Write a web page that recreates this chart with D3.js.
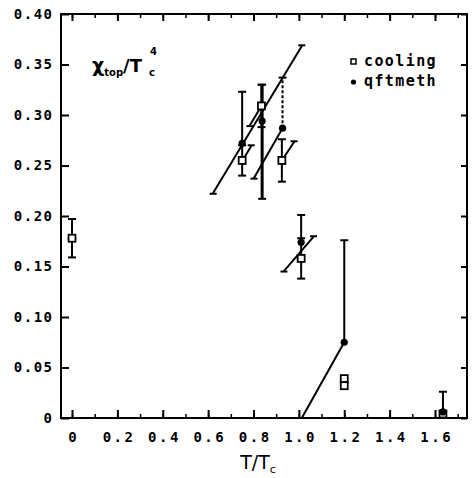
<!DOCTYPE html>
<html><head><meta charset="utf-8">
<script src="https://cdn.jsdelivr.net/npm/d3@7/dist/d3.min.js"></script>
<style>
html,body{margin:0;padding:0;background:#fff;}
svg{display:block;}
text{font-family:"DejaVu Sans Mono",monospace;font-weight:bold;fill:#000;}
</style></head>
<body>
<svg id="c" width="473" height="478"></svg>
<script>
// ---- data ----
const xTickValues = [0, 0.2, 0.4, 0.6, 0.8, 1.0, 1.2, 1.4, 1.6];
const xTickLabels = ["0", "0.2", "0.4", "0.6", "0.8", "1.0", "1.2", "1.4", "1.6"];
const yTickValues = [0, 0.05, 0.10, 0.15, 0.20, 0.25, 0.30, 0.35, 0.40];
const yTickLabels = ["0", "0.05", "0.10", "0.15", "0.20", "0.25", "0.30", "0.35", "0.40"];

// cooling (open squares)
const coolT   = [0, 0.75, 0.835, 0.925, 1.01, 1.2, 1.2, 1.635];
const coolChi = [0.178, 0.255, 0.309, 0.255, 0.158, 0.039, 0.032, 0.004];
const coolLo  = [0.159, 0.240, 0.288, 0.234, 0.138, 0.039, 0.032, 0.004];
const coolHi  = [0.197, 0.270, 0.330, 0.276, 0.178, 0.039, 0.032, 0.004];

// qftmeth (filled circles)
const qftT   = [0.75, 0.838, 0.928, 1.01, 1.2, 1.635];
const qftChi = [0.272, 0.294, 0.287, 0.174, 0.075, 0.006];
const qftLo  = [0.272, 0.217, 0.287, 0.174, 0.075, 0.006];
const qftHi  = [0.323, 0.330, 0.337, 0.201, 0.176, 0.026];

// slanted (correlated) error segments
const segT1   = [0.62, 0.751, 0.782, 0.80, 0.925, 0.932, 1.013];
const segChi1 = [0.222, 0.2548, 0.289, 0.237, 0.255, 0.145, 0];
const segT2   = [1.015, 0.792, 0.835, 0.928, 0.981, 1.067, 1.2];
const segChi2 = [0.369, 0.270, 0.309, 0.287, 0.274, 0.180, 0.075];
const segCapLow  = [true, false, true, true, false, true, false];
const segCapHigh = [true, true, false, false, true, true, false];

// ---- drawing ----
const svg = d3.select("#c");
const L = 61, R = 467, T = 14, B = 418;
const x = d3.scaleLinear().domain([-0.0485, 1.741]).range([L, R]);
const y = d3.scaleLinear().domain([0, 0.4]).range([B, T]);

const g = svg.append("g");

// frame
g.append("rect").attr("x", L).attr("y", T).attr("width", R - L).attr("height", B - T)
  .attr("fill", "none").attr("stroke", "#000").attr("stroke-width", 2);

// bottom axis (ticks inward)
const xMinor = d3.range(0, 1.75, 0.1).filter(v => v < 1.741);
const bAx = d3.axisBottom(x).tickValues(xTickValues).tickSize(-8).tickFormat((d, i) => xTickLabels[i]).tickPadding(14);
const gb = g.append("g").attr("transform", `translate(0,${B})`).call(bAx);
gb.select(".domain").remove();
gb.selectAll(".tick line").attr("stroke-width", 2);
gb.selectAll(".tick text").attr("font-size", 14).attr("letter-spacing", 2.5).attr("dx", 1.2);
const gbm = g.append("g").attr("transform", `translate(0,${B})`)
  .call(d3.axisBottom(x).tickValues(xMinor).tickSize(-4).tickFormat(""));
gbm.select(".domain").remove();
gbm.selectAll(".tick line").attr("stroke-width", 1.5);

// top axis (ticks inward)
const gt = g.append("g").attr("transform", `translate(0,${T})`)
  .call(d3.axisTop(x).tickValues(xTickValues).tickSize(-7).tickFormat(""));
gt.select(".domain").remove();
gt.selectAll(".tick line").attr("stroke-width", 2);
const gtm = g.append("g").attr("transform", `translate(0,${T})`)
  .call(d3.axisTop(x).tickValues(xMinor).tickSize(-4).tickFormat(""));
gtm.select(".domain").remove();
gtm.selectAll(".tick line").attr("stroke-width", 1.5);

// left axis
const lAx = d3.axisLeft(y).tickValues(yTickValues).tickSize(-8).tickFormat((d, i) => yTickLabels[i]).tickPadding(9);
const gl = g.append("g").attr("transform", `translate(${L},0)`).call(lAx);
gl.select(".domain").remove();
gl.selectAll(".tick line").attr("stroke-width", 2);
gl.selectAll(".tick text").attr("font-size", 14).attr("letter-spacing", 1.5).attr("dx", 1.5);

// right axis
const gr = g.append("g").attr("transform", `translate(${R},0)`)
  .call(d3.axisRight(y).tickValues(yTickValues).tickSize(-6).tickFormat(""));
gr.select(".domain").remove();
gr.selectAll(".tick line").attr("stroke-width", 2);

// axis label T/T_c
const xl = svg.append("text").attr("x", 258).attr("y", 469).attr("text-anchor", "middle")
  .style("font-family", "'DejaVu Sans',sans-serif").style("font-weight", "normal").attr("font-size", 19);
xl.append("tspan").text("T/T");
xl.append("tspan").attr("font-size", 11).attr("dy", 4).text("c");

// inner title chi_top / T_c^4
const tt = svg.append("text").attr("x", 92).attr("y", 72)
  .style("font-family", "'DejaVu Sans',sans-serif").attr("font-size", 19);
tt.append("tspan").text("χ");
tt.append("tspan").attr("font-size", 10).attr("dy", 4).text("top");
tt.append("tspan").attr("dy", -4).attr("font-size", 18).text("/T");
svg.append("text").attr("x", 149).attr("y", 76).attr("font-size", 10).style("font-family", "'DejaVu Sans',sans-serif").text("c");
svg.append("text").attr("x", 150).attr("y", 55).attr("font-size", 10).style("font-family", "'DejaVu Sans',sans-serif").text("4");

// slanted segments
const segs = segT1.map((t, i) => ({x1: t, y1: segChi1[i], x2: segT2[i], y2: segChi2[i], cl: segCapLow[i], ch: segCapHigh[i]}));
const sg = g.append("g").attr("stroke", "#000").attr("stroke-width", 2).attr("fill", "none");
segs.forEach(s => {
  sg.append("line").attr("x1", x(s.x1)).attr("y1", y(s.y1)).attr("x2", x(s.x2)).attr("y2", y(s.y2));
  if (s.cl) sg.append("line").attr("x1", x(s.x1) - 3).attr("x2", x(s.x1) + 4).attr("y1", y(s.y1)).attr("y2", y(s.y1));
  if (s.ch) sg.append("line").attr("x1", x(s.x2) - 4).attr("x2", x(s.x2) + 3).attr("y1", y(s.y2)).attr("y2", y(s.y2));
});

// error bars
function errBar(t, lo, hi, opts) {
  const eg = g.append("g").attr("stroke", "#000").attr("stroke-width", opts.w || 2);
  if (hi - lo <= 0) return;
  const l = eg.append("line").attr("x1", x(t)).attr("x2", x(t)).attr("y1", y(lo)).attr("y2", y(hi));
  if (opts.dash) l.attr("stroke-dasharray", opts.dash);
  if (opts.capHi) eg.append("line").attr("stroke-width", 2).attr("x1", x(t) - 4).attr("x2", x(t) + 4).attr("y1", y(hi)).attr("y2", y(hi));
  if (opts.capLo) eg.append("line").attr("stroke-width", 2).attr("x1", x(t) - 4).attr("x2", x(t) + 4).attr("y1", y(lo)).attr("y2", y(lo));
}
coolT.forEach((t, i) => errBar(t, coolLo[i], coolHi[i], {capHi: true, capLo: true}));
qftT.forEach((t, i) => errBar(t, qftLo[i], qftHi[i], {
  capHi: true, capLo: i === 1, w: i === 1 ? 3 : 2, dash: i === 2 ? "3,2" : null}));

// markers
g.selectAll(".cool").data(coolT).enter().append("rect")
  .attr("x", (d) => x(d) - 3.5).attr("y", (d, i) => y(coolChi[i]) - 3.5)
  .attr("width", 7).attr("height", 7).attr("fill", "#fff").attr("stroke", "#000").attr("stroke-width", 1.8);
g.selectAll(".qft").data(qftT).enter().append("circle")
  .attr("cx", d => x(d)).attr("cy", (d, i) => y(qftChi[i])).attr("r", 3.6).attr("fill", "#000");

// legend
const lg = svg.append("g");
lg.append("rect").attr("x", 351).attr("y", 59).attr("width", 5).attr("height", 5).attr("fill", "#fff").attr("stroke", "#000").attr("stroke-width", 1.5);
lg.append("circle").attr("cx", 353.5).attr("cy", 82).attr("r", 2.6).attr("fill", "#000");
lg.append("text").attr("x", 364).attr("y", 66).attr("font-size", 15).attr("letter-spacing", 1.4).text("cooling");
lg.append("text").attr("x", 364).attr("y", 86).attr("font-size", 15).attr("letter-spacing", 1.4).text("qftmeth");
</script>
</body></html>
